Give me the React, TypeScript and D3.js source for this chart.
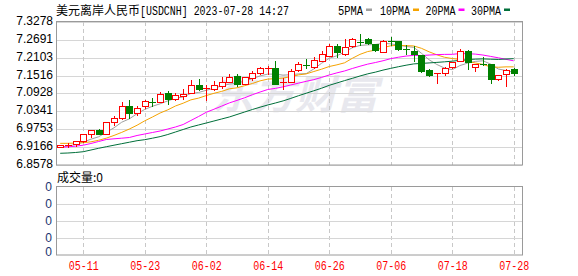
import React from "react";
import * as d3 from "d3";

const dates = [
  "05-08","05-09","05-10","05-11","05-12","05-15","05-16","05-17","05-18","05-19",
  "05-22","05-23","05-24","05-25","05-26","05-29","05-30","05-31","06-01","06-02",
  "06-05","06-06","06-07","06-08","06-09","06-12","06-13","06-14","06-15","06-16",
  "06-19","06-20","06-21","06-22","06-23","06-26","06-27","06-28","06-29","06-30",
  "07-03","07-04","07-05","07-06","07-07","07-10","07-11","07-12","07-13","07-14",
  "07-17","07-18","07-19","07-20","07-21","07-24","07-25","07-26","07-27","07-28",
];

const open = [
  6.9186,6.9202,6.9258,6.9377,6.9597,6.9712,6.9607,7.0001,7.0113,7.0501,
  7.0297,7.0501,7.0649,7.0658,7.0944,7.0737,7.0862,7.0935,7.1198,7.1076,
  7.1066,7.1175,7.1316,7.1487,7.1230,7.1444,7.1592,7.1717,7.1766,7.1263,
  7.1322,7.1684,7.1865,7.1799,7.1996,7.2167,7.2496,7.2210,7.2473,7.2611,
  7.2709,7.2539,7.2308,7.2644,7.2644,7.2391,7.2325,7.2177,7.1700,7.1592,
  7.1612,7.1799,7.1996,7.2341,7.1783,7.1898,7.1888,7.1405,7.1559,7.1733,
];
const close = [
  6.9219,6.9235,6.9377,6.9587,6.9712,6.9613,6.9981,7.0113,7.0501,7.0271,
  7.0461,7.0681,7.0626,7.0912,7.0754,7.0879,7.0902,7.1198,7.1076,7.1109,
  7.1207,7.1306,7.1480,7.1240,7.1454,7.1602,7.1756,7.1773,7.1240,7.1290,
  7.1667,7.1888,7.1822,7.2013,7.2216,7.2489,7.2302,7.2446,7.2709,7.2588,
  7.2588,7.2358,7.2644,7.2621,7.2381,7.2368,7.2210,7.1667,7.1552,7.1612,
  7.1776,7.1947,7.2341,7.1953,7.1898,7.1875,7.1405,7.1536,7.1700,7.1612,
];
const high = [
  6.9235,6.9311,6.9383,6.9597,6.9738,6.9761,6.9991,7.0198,7.0649,7.0714,
  7.0517,7.0714,7.0790,7.0967,7.1010,7.0928,7.1092,7.1388,7.1405,7.1207,
  7.1355,7.1470,7.1559,7.1559,7.1480,7.1677,7.1799,7.1832,7.1980,7.1428,
  7.1717,7.1963,7.2052,7.2118,7.2341,7.2545,7.2571,7.2719,7.2736,7.2884,
  7.2736,7.2571,7.2686,7.2769,7.2654,7.2506,7.2473,7.2193,7.1717,7.1618,
  7.1783,7.1963,7.2391,7.2374,7.1914,7.2138,7.1914,7.1552,7.1717,7.1776,
];
const low = [
  6.9170,6.9170,6.9212,6.9344,6.9488,6.9587,6.9597,6.9893,7.0090,7.0123,
  7.0221,7.0451,7.0527,7.0649,7.0599,7.0698,7.0747,7.0928,7.1043,7.0698,
  7.1059,7.1125,7.1306,7.1184,7.1224,7.1372,7.1585,7.1569,7.1224,7.1092,
  7.1306,7.1667,7.1766,7.1766,7.1980,7.2161,7.2118,7.2193,7.2456,7.2522,
  7.2555,7.2341,7.2292,7.2522,7.2358,7.2226,7.2006,7.1635,7.1503,7.1263,
  7.1536,7.1766,7.1980,7.1733,7.1677,7.1865,7.1263,7.1372,7.1184,7.1536,
];

const ma5 = [
  6.917,6.920,6.925,6.933,6.9426,6.9505,6.9654,6.9801,6.9984,7.0096,
  7.0265,7.0405,7.0508,7.0590,7.0687,7.0770,7.0815,7.0929,7.0962,7.1033,
  7.1098,7.1179,7.1236,7.1268,7.1337,7.1416,7.1506,7.1565,7.1565,7.1532,
  7.1545,7.1572,7.1581,7.1736,7.1921,7.2086,7.2168,7.2293,7.2432,7.2507,
  7.2527,7.2538,7.2577,7.2560,7.2518,7.2474,7.2445,7.2249,7.2036,7.1882,
  7.1763,7.1711,7.1846,7.1926,7.1983,7.2003,7.1894,7.1733,7.1683,7.1626,
];
const ma10 = [
  6.929,6.929,6.930,6.931,6.934,6.939,6.946,6.955,6.965,6.9761,
  6.9885,7.0030,7.0155,7.0287,7.0391,7.0518,7.0610,7.0719,7.0776,7.0860,
  7.0934,7.0997,7.1082,7.1115,7.1185,7.1257,7.1343,7.1400,7.1417,7.1435,
  7.1481,7.1539,7.1573,7.1651,7.1727,7.1815,7.1870,7.1937,7.2084,7.2214,
  7.2306,7.2353,7.2435,7.2496,7.2513,7.2501,7.2491,7.2413,7.2298,7.2200,
  7.2119,7.2078,7.2048,7.1981,7.1932,7.1883,7.1803,7.1790,7.1804,7.1804,
];
const ma20 = [
  6.9160,6.9176,6.9196,6.9229,6.9285,6.9350,6.9416,6.9439,6.9459,6.9482,
  6.9548,6.9597,6.9646,6.9695,6.9761,6.9827,6.9909,7.0041,7.0172,7.0310,
  7.0410,7.0513,7.0618,7.0701,7.0788,7.0888,7.0976,7.1059,7.1096,7.1147,
  7.1208,7.1268,7.1328,7.1383,7.1456,7.1536,7.1606,7.1669,7.1750,7.1824,
  7.1893,7.1946,7.2004,7.2073,7.2120,7.2158,7.2181,7.2175,7.2191,7.2207,
  7.2213,7.2215,7.2241,7.2238,7.2223,7.2192,7.2147,7.2101,7.2051,7.2002,
];
const ma30 = [
  6.8963,6.8972,6.8989,6.9015,6.9071,6.9127,6.9179,6.9229,6.9278,6.9327,
  6.9377,6.9410,6.9459,6.9511,6.9580,6.9663,6.9745,6.9827,6.9893,6.9958,
  7.0024,7.0090,7.0156,7.0238,7.0320,7.0402,7.0478,7.0550,7.0616,7.0685,
  7.0767,7.0855,7.0937,7.1018,7.1101,7.1197,7.1274,7.1352,7.1426,7.1503,
  7.1574,7.1630,7.1697,7.1754,7.1808,7.1858,7.1901,7.1917,7.1933,7.1950,
  7.1969,7.1990,7.2019,7.2042,7.2057,7.2066,7.2055,7.2047,7.2062,7.2073,
];

const priceTicks = ["7.3278","7.2691","7.2103","7.1516","7.0928","7.0341","6.9753","6.9166","6.8578"];
const dateTicks = ["05-11","05-23","06-02","06-14","06-26","07-06","07-18","07-28"];
const volTicks = ["0","0","0","0","0"];

const legendNames = ["5PMA","10PMA","20PMA","30PMA"];
const maColors = ["#a0a0a0","#f5a300","#ff00ff","#006f3a"];

const RED = "#ff0000";
const GREEN = "#008000";
const MONO = "'Liberation Mono', 'DejaVu Sans Mono', monospace";
const SANS = "'Liberation Sans', Arial, sans-serif";
const CJK = "'Noto Sans CJK SC', sans-serif";

export default function App() {
  const W = 578, H = 276;
  const L = 56, R = 522, PT = 22, PB = 165, VT = 187, VB = 255;

  const x = d3.scaleLinear().domain([0, dates.length - 1]).range([60.2, 513.7]);
  const y = d3.scaleLinear().domain([6.8578, 7.3278]).range([PB, PT]);
  const yv = d3.scaleLinear().domain([0, volTicks.length - 1]).range([VB, VT]);

  const lineGen = (arr: number[]) =>
    d3.line<number>().x((_, i) => x(i)).y((d) => y(d))(arr) || "";

  const mas = [ma5, ma10, ma20, ma30];
  const legendX = [338, 380, 425.5, 471];
  const legendW = [25, 30, 30, 30];

  return (
    <svg width={W} height={H} style={{ position: "absolute", left: 0, top: 0, background: "#fff" }}>
      {/* title */}
      <text x={56} y={14.5} fontFamily={CJK} fontSize={12} fill="#000">美元离岸人民币</text>
      <text x={140} y={14.5} fontFamily={MONO} fontSize={12} fill="#000" textLength={149} lengthAdjust="spacingAndGlyphs">[USDCNH] 2023-07-28 14:27</text>

      {/* legend */}
      {legendNames.map((n, k) => (
        <g key={n}>
          <text x={legendX[k]} y={14.5} fontFamily={MONO} fontSize={12} fill="#000" textLength={legendW[k]} lengthAdjust="spacingAndGlyphs">{n}</text>
          <rect x={legendX[k] + legendW[k] + 3} y={8.5} width={6} height={2.5} fill={maColors[k]} />
        </g>
      ))}

      {/* watermark */}
      <text x={212} y={109} fontFamily={CJK} fontSize={40} fontWeight="bold" fill="#e8e8ee" textLength={166} lengthAdjust="spacingAndGlyphs" fontStyle="italic">东方财富</text>

      {/* price grid */}
      {priceTicks.map((t, k) => {
        const yy = Math.round(y(+t)) + 0.5;
        return <line key={"hg" + k} x1={L} x2={R} y1={yy} y2={yy} stroke="#d6d6d6" />;
      })}
      {dateTicks.map((t) => {
        const xx = Math.round(x(dates.indexOf(t))) + 0.5;
        return (
          <g key={"vg" + t}>
            <line x1={xx} x2={xx} y1={PT} y2={PB} stroke="#c8c8c8" strokeDasharray="4,3" />
            <line x1={xx} x2={xx} y1={VT} y2={VB} stroke="#c8c8c8" strokeDasharray="4,3" />
          </g>
        );
      })}
      <rect x={L + 0.5} y={PT - 0.5} width={R - L} height={PB - PT + 0.5} fill="none" stroke="#9a9a9a" />

      {/* price labels */}
      {priceTicks.map((t, k) => (
        <text key={"pl" + k} x={53} y={Math.round(y(+t)) - 1} dominantBaseline="central" textAnchor="end" fontFamily={SANS} fontSize={12} fill="#000">{t}</text>
      ))}

      {/* MA lines */}
      {mas.map((m, k) => (
        <path key={"ma" + k} d={lineGen(m)} fill="none" stroke={maColors[k]} strokeWidth={1} />
      ))}

      {/* candles */}
      {dates.map((d, i) => {
        const cx = Math.round(x(i));
        const o = y(open[i]), c = y(close[i]);
        const top = Math.round(Math.min(o, c));
        const bot = Math.round(Math.max(o, c));
        const hi = Math.round(y(high[i]));
        const lo = Math.round(y(low[i]));
        const up = close[i] >= open[i];
        const col = up ? RED : GREEN;
        const wx = cx + 0.5;
        if (bot - top < 2) {
          return (
            <g key={d}>
              <line x1={wx} x2={wx} y1={hi} y2={lo + 1} stroke={col} />
              <line x1={cx - 3} x2={cx + 4} y1={top + 0.5} y2={top + 0.5} stroke={col} />
            </g>
          );
        }
        if (up) {
          return (
            <g key={d}>
              <line x1={wx} x2={wx} y1={hi} y2={top} stroke={col} />
              <line x1={wx} x2={wx} y1={bot} y2={lo + 1} stroke={col} />
              <rect x={cx - 2.5} y={top + 0.5} width={6} height={bot - top} fill="#fff" stroke={col} />
            </g>
          );
        }
        return (
          <g key={d}>
            <line x1={wx} x2={wx} y1={hi} y2={lo + 1} stroke={col} />
            <rect x={cx - 3} y={top} width={7} height={bot - top + 1} fill={col} />
          </g>
        );
      })}

      {/* volume panel */}
      <text x={57} y={182} fontFamily={CJK} fontSize={12} fill="#000">成交量:0</text>
      {volTicks.map((t, k) => {
        const yy = Math.round(yv(k)) + 0.5;
        return k > 0 && k < volTicks.length - 1 ? (
          <line key={"vh" + k} x1={L} x2={R} y1={yy} y2={yy} stroke="#d6d6d6" />
        ) : null;
      })}
      <rect x={L + 0.5} y={VT - 0.5} width={R - L} height={VB - VT + 0.5} fill="none" stroke="#9a9a9a" />
      {volTicks.map((t, k) => (
        <text key={"vl" + k} x={52} y={k === 0 ? VB + 1 : Math.round(yv(k)) + 3.5} textAnchor="end" fontFamily={SANS} fontSize={12} fill="#1a3570">{t}</text>
      ))}

      {/* date labels */}
      {dateTicks.map((t) => (
        <text key={"dl" + t} x={x(dates.indexOf(t)) + 0.5} y={270} textAnchor="middle" fontFamily={MONO} fontSize={12} fill="#ff0000" textLength={30} lengthAdjust="spacingAndGlyphs">{t}</text>
      ))}
    </svg>
  );
}
